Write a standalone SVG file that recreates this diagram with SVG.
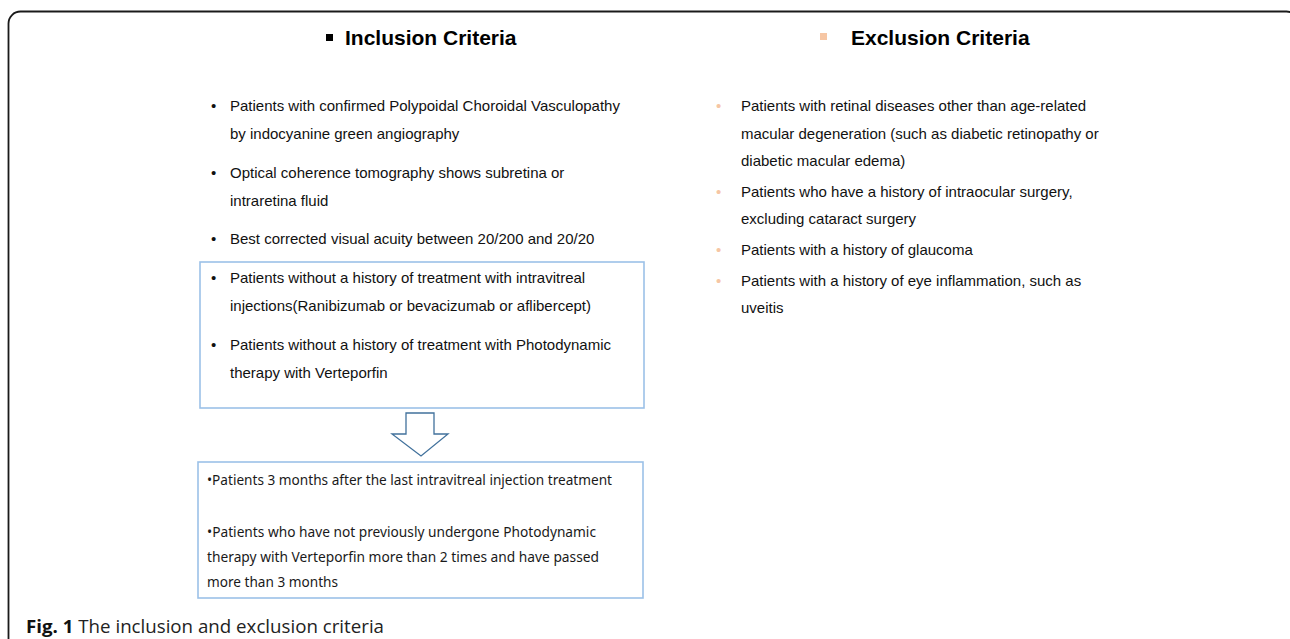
<svg xmlns="http://www.w3.org/2000/svg" width="1290" height="639" viewBox="0 0 1290 639">
<style>
.t{font-family:"Liberation Sans",Arial,sans-serif;font-size:15px;fill:#111}
.h{font-family:"Liberation Sans",Arial,sans-serif;font-size:21px;font-weight:bold;fill:#000}
.k{font-family:"Noto Sans","Open Sans",sans-serif;font-size:14.5px;fill:#1a1a1a}
.cap{font-family:"Open Sans","Noto Sans",sans-serif;font-size:18.5px;fill:#222}
.box{fill:none;stroke:#9cc1e8;stroke-width:1.6}
.ob{fill:#f6c6a4}
</style>
<rect x="8.5" y="11.5" width="1290" height="700" rx="12" fill="#fff" stroke="#1a1a1a" stroke-width="1.8"/>
<g id="inclusion-title">
<rect x="326" y="34" width="7" height="7" fill="#000"/>
<text class="h" x="345" y="45">Inclusion Criteria</text>
</g>
<g id="exclusion-title">
<rect x="820" y="33" width="7" height="7" class="ob"/>
<text class="h" x="851" y="45">Exclusion Criteria</text>
</g>
<g id="inclusion-list">
<text class="t" x="211" y="110.5">•</text>
<text class="t" x="230" y="110.5">Patients with confirmed Polypoidal Choroidal Vasculopathy</text>
<text class="t" x="230" y="138.5">by indocyanine green angiography</text>
<text class="t" x="211" y="178">•</text>
<text class="t" x="230" y="178">Optical coherence tomography shows subretina or</text>
<text class="t" x="230" y="205.5">intraretina fluid</text>
<text class="t" x="211" y="244">•</text>
<text class="t" x="230" y="244">Best corrected visual acuity between 20/200 and 20/20</text>
</g>
<g id="box1">
<rect class="box" x="200" y="262" width="444" height="146"/>
<text class="t" x="211" y="283">•</text>
<text class="t" x="230" y="283">Patients without a history of treatment with intravitreal</text>
<text class="t" x="230" y="311">injections(Ranibizumab or bevacizumab or aflibercept)</text>
<text class="t" x="211" y="350">•</text>
<text class="t" x="230" y="350">Patients without a history of treatment with Photodynamic</text>
<text class="t" x="230" y="377.5">therapy with Verteporfin</text>
</g>
<g id="connectors">
<path d="M406,413 H434 V434 H448 L421,456 L392,434 H406 Z" fill="#fff" stroke="#41719c" stroke-width="1.3"/>
</g>
<g id="box2">
<rect class="box" x="198" y="462" width="445" height="136"/>
<text class="k" x="207" y="485" textLength="405" lengthAdjust="spacingAndGlyphs">•Patients 3 months after the last intravitreal injection treatment</text>
<text class="k" x="207" y="537" textLength="389" lengthAdjust="spacingAndGlyphs">•Patients who have not previously undergone Photodynamic</text>
<text class="k" x="207" y="562" textLength="392" lengthAdjust="spacingAndGlyphs">therapy with Verteporfin more than 2 times and have passed</text>
<text class="k" x="207" y="587" textLength="131" lengthAdjust="spacingAndGlyphs">more than 3 months</text>
</g>
<g id="exclusion-list">
<text class="t ob" x="716" y="111" font-size="12">•</text>
<text class="t" x="741" y="111">Patients with retinal diseases other than age-related</text>
<text class="t" x="741" y="139">macular degeneration (such as diabetic retinopathy or</text>
<text class="t" x="741" y="166">diabetic macular edema)</text>
<text class="t ob" x="716" y="197" font-size="12">•</text>
<text class="t" x="741" y="197">Patients who have a history of intraocular surgery,</text>
<text class="t" x="741" y="224">excluding cataract surgery</text>
<text class="t ob" x="716" y="255" font-size="12">•</text>
<text class="t" x="741" y="255">Patients with a history of glaucoma</text>
<text class="t ob" x="716" y="286" font-size="12">•</text>
<text class="t" x="741" y="286">Patients with a history of eye inflammation, such as</text>
<text class="t" x="741" y="313">uveitis</text>
</g>
<g id="caption">
<text class="cap" x="26" y="633" textLength="358" lengthAdjust="spacingAndGlyphs"><tspan font-weight="bold" fill="#111">Fig. 1</tspan> The inclusion and exclusion criteria</text>
</g>
</svg>
